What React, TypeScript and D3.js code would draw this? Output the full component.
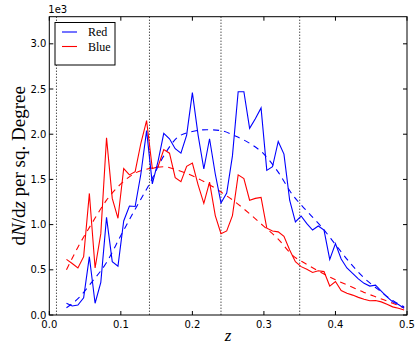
import React from "react";
import * as d3 from "d3";

// bin centres (redshift) of the histograms
const zBins: number[] = [
  0.024, 0.032, 0.04, 0.048, 0.056, 0.064, 0.072, 0.08, 0.088, 0.096,
  0.104, 0.112, 0.12, 0.128, 0.136, 0.144, 0.152, 0.16, 0.168, 0.176,
  0.184, 0.192, 0.2, 0.208, 0.216, 0.224, 0.232, 0.24, 0.248, 0.256,
  0.264, 0.272, 0.28, 0.288, 0.296, 0.304, 0.312, 0.32, 0.328, 0.336,
  0.344, 0.352, 0.36, 0.368, 0.376, 0.384, 0.392, 0.4, 0.408, 0.416,
  0.424, 0.432, 0.44, 0.448, 0.456, 0.464, 0.472, 0.48, 0.488, 0.496,
];

// legend label "Red" (drawn in blue), values x1e3
const redLabelValues: number[] = [
  0.13, 0.1, 0.11, 0.19, 0.645, 0.13, 0.36, 1.08, 0.59, 0.54,
  1.04, 1.205, 1.2, 1.56, 2.04, 1.45, 1.7, 2.01, 1.95, 1.84,
  1.79, 1.99, 2.46, 1.99, 1.615, 1.95, 1.56, 1.24, 1.35, 1.76,
  2.47, 2.47, 2.065, 2.17, 2.29, 1.6, 1.64, 1.92, 1.78, 1.27,
  1.03, 1.095, 1.01, 0.94, 0.985, 0.94, 0.615, 0.79, 0.62, 0.52,
  0.46, 0.4, 0.35, 0.32, 0.33, 0.265, 0.2, 0.145, 0.115, 0.074,
];

// legend label "Blue" (drawn in red), values x1e3
const blueLabelValues: number[] = [
  0.615, 0.57, 0.52, 0.645, 1.345, 0.52, 0.9, 1.96, 1.29, 1.07,
  1.62, 1.55, 1.585, 1.9, 2.15, 1.62, 1.64, 1.83, 1.79, 1.52,
  1.475, 1.645, 1.68, 1.44, 1.235, 1.47, 1.1, 0.9, 0.93, 1.1,
  1.55, 1.51, 1.27, 1.29, 1.3, 0.96, 0.93, 0.92, 0.87, 0.72,
  0.59, 0.535, 0.505, 0.47, 0.49, 0.48, 0.32, 0.37, 0.27, 0.24,
  0.22, 0.195, 0.175, 0.158, 0.16, 0.145, 0.12, 0.09, 0.075, 0.055,
];

// model curves (dashed)
const modelZ: number[] = [
  0.024, 0.04, 0.06, 0.08, 0.1, 0.12, 0.14, 0.16, 0.18, 0.2,
  0.22, 0.24, 0.26, 0.28, 0.3, 0.32, 0.34, 0.36, 0.38, 0.4,
  0.42, 0.44, 0.46, 0.48, 0.496,
];
const blueModel: number[] = [
  0.08, 0.18, 0.37, 0.58, 0.88, 1.17, 1.45, 1.76, 1.97, 2.03,
  2.05, 2.04, 1.98, 1.9, 1.78, 1.58, 1.33, 1.15, 0.98, 0.78,
  0.58, 0.41, 0.28, 0.16, 0.09,
];
const redModel: number[] = [
  0.5, 0.75, 1.02, 1.27, 1.45, 1.57, 1.62, 1.64, 1.6, 1.54,
  1.46, 1.36, 1.25, 1.12, 0.98, 0.84, 0.66, 0.56, 0.47, 0.39,
  0.32, 0.25, 0.19, 0.13, 0.08,
];

const xTicks: number[] = [0, 0.1, 0.2, 0.3, 0.4, 0.5];
const yTicks: number[] = [0, 0.5, 1.0, 1.5, 2.0, 2.5, 3.0];
const vLines: number[] = [0.01, 0.14, 0.24, 0.35];
const legendItems = [
  { label: "Red", color: "#0000ff" },
  { label: "Blue", color: "#ff0000" },
];

const W = 415;
const H = 351;
const M = { left: 49.3, right: 407, top: 16.7, bottom: 315 };

export default function App() {
  const x = d3.scaleLinear().domain([0, 0.5]).range([M.left, M.right]);
  const y = d3.scaleLinear().domain([0, 3.3]).range([M.bottom, M.top]);

  const line = d3
    .line<[number, number]>()
    .x((d) => x(d[0]))
    .y((d) => y(d[1]));
  const smooth = d3
    .line<[number, number]>()
    .x((d) => x(d[0]))
    .y((d) => y(d[1]))
    .curve(d3.curveMonotoneX);

  const pts = (zs: number[], vs: number[]) =>
    zs.map((z, i) => [z, vs[i]] as [number, number]);

  const tick = 4;
  const sans = "DejaVu Sans";
  const serif = "Liberation Serif";

  return (
    <svg
      width={W}
      height={H}
      style={{ position: "absolute", left: 0, top: 0, background: "#fff" }}
    >
      <rect x={0} y={0} width={W} height={H} fill="#fff" />
      <defs>
        <clipPath id="plotclip">
          <rect x={M.left} y={M.top} width={M.right - M.left} height={M.bottom - M.top} />
        </clipPath>
      </defs>
      <g clipPath="url(#plotclip)">
        {vLines.map((v) => (
          <line
            key={v}
            x1={x(v)}
            x2={x(v)}
            y1={M.top}
            y2={M.bottom}
            stroke="#000"
            strokeWidth={1}
            strokeDasharray="1,2"
          />
        ))}
        <path d={smooth(pts(modelZ, redModel)) || ""} fill="none" stroke="#ff0000" strokeWidth={1.1} strokeDasharray="6,5" />
        <path d={smooth(pts(modelZ, blueModel)) || ""} fill="none" stroke="#0000ff" strokeWidth={1.1} strokeDasharray="6,5" />
        <path d={line(pts(zBins, blueLabelValues)) || ""} fill="none" stroke="#ff0000" strokeWidth={1.1} />
        <path d={line(pts(zBins, redLabelValues)) || ""} fill="none" stroke="#0000ff" strokeWidth={1.1} />
      </g>

      {/* frame */}
      <rect
        x={M.left}
        y={M.top}
        width={M.right - M.left}
        height={M.bottom - M.top}
        fill="none"
        stroke="#000"
        strokeWidth={1}
      />

      {/* x ticks */}
      {xTicks.map((t) => (
        <g key={"x" + t}>
          <line x1={x(t)} x2={x(t)} y1={M.bottom} y2={M.bottom - tick} stroke="#000" />
          <line x1={x(t)} x2={x(t)} y1={M.top} y2={M.top + tick} stroke="#000" />
          <text x={x(t)} y={M.bottom + 12.5} fontFamily={sans} fontSize={10} textAnchor="middle">
            {d3.format(".1f")(t)}
          </text>
        </g>
      ))}
      {/* y ticks */}
      {yTicks.map((t) => (
        <g key={"y" + t}>
          <line x1={M.left} x2={M.left + tick} y1={y(t)} y2={y(t)} stroke="#000" />
          <line x1={M.right} x2={M.right - tick} y1={y(t)} y2={y(t)} stroke="#000" />
          <text x={M.left - 3} y={y(t) + 3.5} fontFamily={sans} fontSize={10} textAnchor="end">
            {d3.format(".1f")(t)}
          </text>
        </g>
      ))}

      <text x={M.left - 1} y={M.top - 4} fontFamily={sans} fontSize={10}>
        1e3
      </text>

      {/* axis labels */}
      <text
        transform={`translate(25,${(M.top + M.bottom) / 2}) rotate(-90)`}
        fontFamily={serif}
        fontSize={19}
        textAnchor="middle"
      >
        <tspan>d</tspan>
        <tspan fontStyle="italic">N</tspan>
        <tspan>/d</tspan>
        <tspan fontStyle="italic">z</tspan>
        <tspan> per sq. Degree</tspan>
      </text>
      <text
        x={(M.left + M.right) / 2}
        y={341}
        fontFamily={serif}
        fontSize={17}
        fontStyle="italic"
        textAnchor="middle"
      >
        z
      </text>

      {/* legend */}
      <rect x={55} y={22.5} width={60} height={42.5} fill="#fff" stroke="#000" strokeWidth={1} />
      {legendItems.map((it, i) => (
        <g key={it.label}>
          <line x1={62} x2={77} y1={32 + i * 14.5} y2={32 + i * 14.5} stroke={it.color} strokeWidth={1.1} />
          <text x={88} y={36 + i * 14.5} fontFamily={serif} fontSize={12}>
            {it.label}
          </text>
        </g>
      ))}
    </svg>
  );
}
